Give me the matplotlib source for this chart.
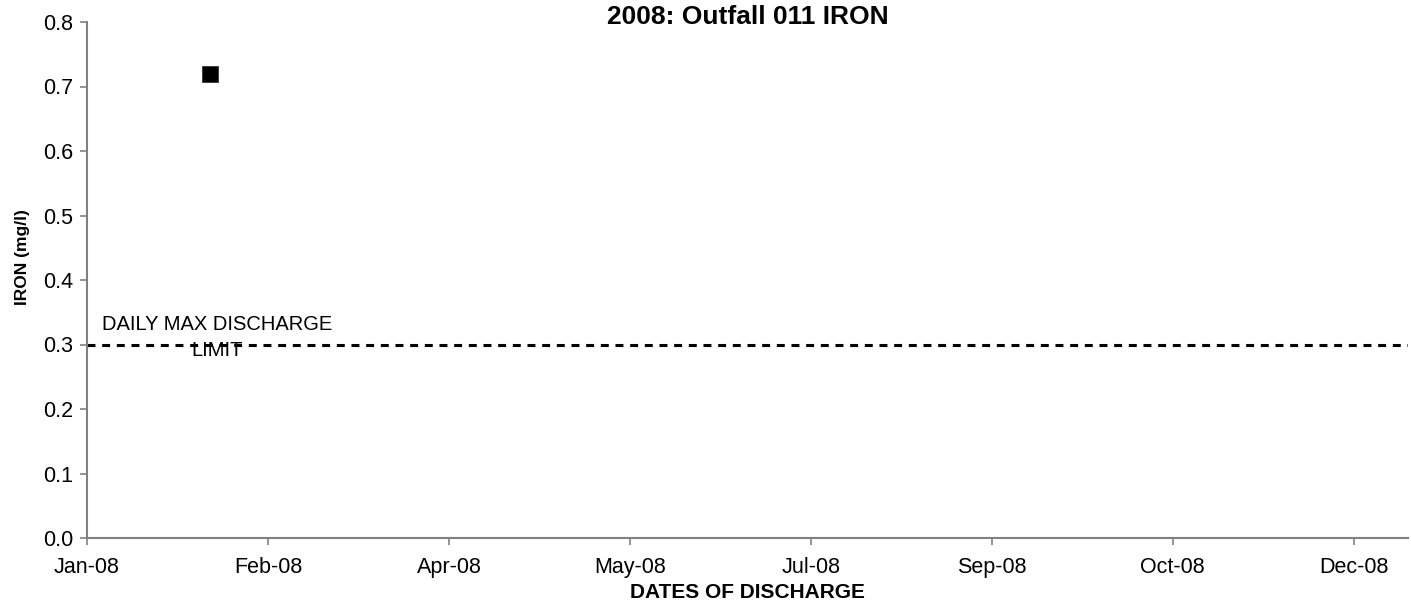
import datetime as dt
import matplotlib
matplotlib.use('Agg')
import matplotlib.pyplot as plt
import matplotlib.dates as mdates

plt.rcParams['font.family'] = ['Liberation Sans', 'DejaVu Sans']

# sample data
sample_dates = [dt.date(2008, 2, 4)]
iron_mgl = [0.72]
daily_max_limit = 0.3
limit_label = 'DAILY MAX DISCHARGE\nLIMIT'

x_start = dt.date(2008, 1, 1)
x_end = dt.date(2008, 12, 31)
tick_step_days = 50
y_ticks = [0.0, 0.1, 0.2, 0.3, 0.4, 0.5, 0.6, 0.7, 0.8]

fig = plt.figure(figsize=(14.11, 6.02), dpi=100)
ax = fig.add_axes([87/1411, (602-538)/602, (1408-87)/1411, (538-22)/602])

ax.plot(sample_dates, iron_mgl, linestyle='none', marker='s', markersize=11.5,
        color='black', markeredgecolor='#333333', markeredgewidth=0.6, clip_on=False)
ax.plot([x_start, x_end], [daily_max_limit, daily_max_limit], color='black',
        lw=2.2, dashes=(2.6, 2.2))
ax.text(dt.date(2008, 2, 6), daily_max_limit + 0.011, limit_label, ha='center', va='center',
        fontsize=14.5, linespacing=1.5)

ax.set_xlim(x_start, x_end)
ax.set_ylim(0, 0.8)
ticks = [x_start + dt.timedelta(days=tick_step_days * k) for k in range(8)]
ax.set_xticks(ticks)
ax.xaxis.set_major_formatter(mdates.DateFormatter('%b-%y'))
ax.set_yticks(y_ticks)
ax.set_yticklabels(['%.1f' % v for v in y_ticks])

for s in ['top', 'right']:
    ax.spines[s].set_visible(False)
for s in ['left', 'bottom']:
    ax.spines[s].set_color('#808080')
    ax.spines[s].set_linewidth(1.5)
ax.tick_params(axis='both', direction='out', length=5, width=1.2, color='#808080',
               labelsize=15.5, labelcolor='black')
ax.tick_params(axis='x', pad=9)
ax.tick_params(axis='y', pad=5)

ax.set_title('2008: Outfall 011 IRON', fontsize=19, fontweight='bold', pad=0, y=0.997)
ax.set_xlabel('DATES OF DISCHARGE', fontsize=15, fontweight='bold', labelpad=3)
ax.set_ylabel('IRON (mg/l)', fontsize=12.5, fontweight='bold', labelpad=6)
ax.yaxis.set_label_coords(-0.043, 0.545)

fig.savefig('out.png', dpi=100)
